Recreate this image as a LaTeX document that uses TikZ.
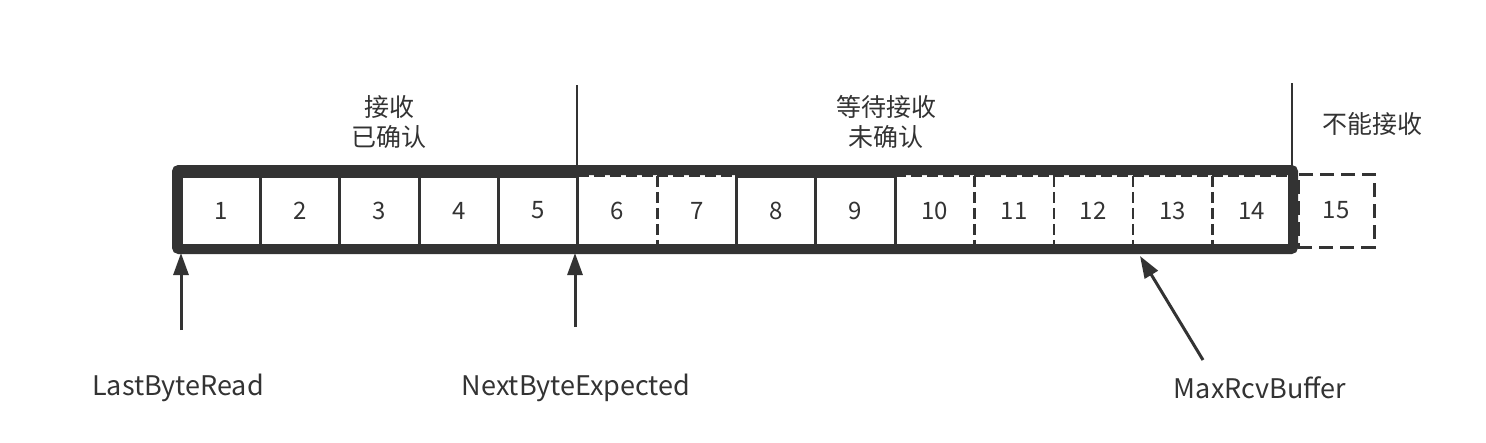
\documentclass[tikz,border=0pt]{standalone}
\usepackage{fontspec}
\setmainfont{Noto Sans CJK SC}
\usetikzlibrary{arrows.meta}
\definecolor{ink}{HTML}{333333}
\begin{document}
\begin{tikzpicture}[x=1pt,y=-1pt,
  cell/.style={minimum width=79.3pt,minimum height=69pt,inner sep=0pt,font=\fontsize{24}{24}\selectfont,text=ink},
  solidcell/.style={cell,draw=ink,line width=3pt},
  dashcell/.style={cell},
  dl/.style={draw=ink,line width=2.5pt,dash pattern=on 11pt off 5pt},
  farcell/.style={cell,draw=ink,line width=3pt,dash pattern=on 14pt off 7pt,minimum width=76pt,minimum height=73pt},
  lbl/.style={font=\fontsize{25}{30}\selectfont,text=ink,align=center,inner sep=0pt},
  plbl/.style={font=\fontsize{27}{30}\selectfont,text=ink,inner sep=0pt},
  ptr/.style={draw=ink,line width=3pt,-{Triangle[length=22pt,width=15pt]}},
  divider/.style={draw=ink,line width=2pt}]
\useasboundingbox (0,0) rectangle (1486,442);
% dashed cells
\foreach \i in {6,7,10,11,12,13,14}{\node[dashcell] (c\i) at ({221+(\i-1)*79.3},210.5) {\i};}
\foreach \i in {6,7,10,11,12,13,14}{
  \draw[dl] (c\i.north west) -- (c\i.north east);
  \draw[dl] (c\i.south west) -- (c\i.south east);}
\foreach \i in {6,10,11,12,13}{\draw[dl] (c\i.north east) -- (c\i.south east);}
% solid cells
\foreach \i in {1,...,5,8,9}{\node[solidcell] (c\i) at ({221+(\i-1)*79.3},210.5) {\i};}
\node[farcell] (c15) at (1336,210.5) {15};
% outer frame
\draw[ink,line width=10pt,rounded corners=2pt] (177,170) rectangle (1293,249);
% dividers
\coordinate (d1t) at (577,85);
\coordinate (d1b) at (577,250);
\coordinate (d2t) at (1292,83);
\coordinate (d2b) at (1292,166);
\draw[divider] (d1t) -- (d1b);
\draw[divider] (d2t) -- (d2b);
% region labels
\node[lbl] (r1) at (389,122) {接收\\已确认};
\node[lbl] (r2) at (886,122) {等待接收\\未确认};
\node[lbl] (r3) at (1372,124) {不能接收};
% pointer labels
\node[plbl] (p1) at (178,388) {LastByteRead};
\node[plbl] (p2) at (576,388) {NextByteExpected};
\node[plbl] (p3) at (1260,388) {MaxRcvBuffer};
% pointers
\coordinate (a1s) at (181,330);
\coordinate (a1e) at (181,253);
\coordinate (a2s) at (575,327);
\coordinate (a2e) at (575,253);
\coordinate (a3s) at (1203,360);
\coordinate (a3e) at (1140,256);
\draw[ptr] (a1s) -- (a1e);
\draw[ptr] (a2s) -- (a2e);
\draw[ptr] (a3s) -- (a3e);
\end{tikzpicture}
\end{document}
